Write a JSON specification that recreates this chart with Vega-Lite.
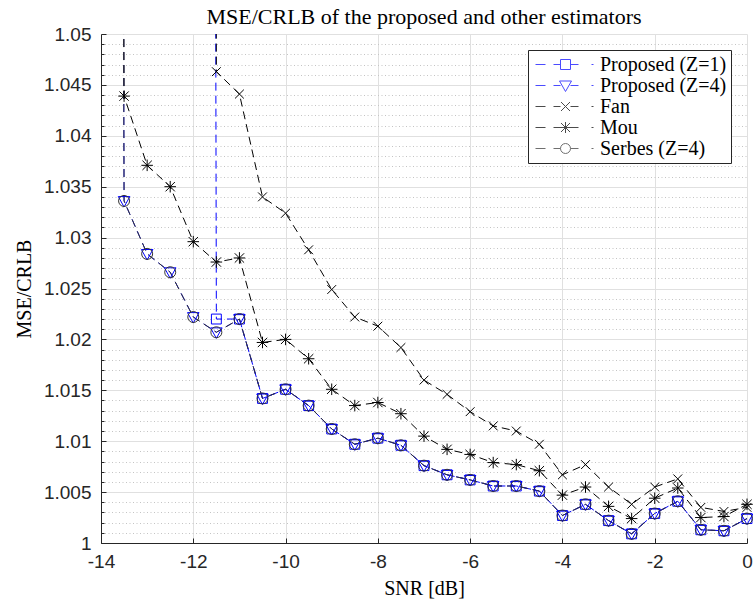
{
  "$schema": "https://vega.github.io/schema/vega-lite/v6.json",
  "autosize": {"type": "none"},
  "padding": {"left": 101, "top": 34, "right": 6, "bottom": 58},
  "width": 646,
  "height": 509,
  "background": "white",
  "config": {"view": {"stroke": null}},
  "title": {"text": "MSE/CRLB of the proposed and other estimators", "font": "Liberation Serif", "fontSize": 22, "fontWeight": "normal", "color": "#000000", "anchor": "middle", "frame": "group", "offset": 0, "dy": 4},
  "data": {"values": [
    {"snr": -14, "series": "Proposed (Z=1)", "v": 3.4}, {"snr": -13.5, "series": "Proposed (Z=1)", "v": 3.0}, {"snr": -13, "series": "Proposed (Z=1)", "v": 2.7}, {"snr": -12.5, "series": "Proposed (Z=1)", "v": 2.4}, {"snr": -12, "series": "Proposed (Z=1)", "v": 2.1}, {"snr": -11.5, "series": "Proposed (Z=1)", "v": 1.0220}, {"snr": -11, "series": "Proposed (Z=1)", "v": 1.0220}, {"snr": -10.5, "series": "Proposed (Z=1)", "v": 1.0142}, {"snr": -10, "series": "Proposed (Z=1)", "v": 1.0151}, {"snr": -9.5, "series": "Proposed (Z=1)", "v": 1.0135}, {"snr": -9, "series": "Proposed (Z=1)", "v": 1.0112}, {"snr": -8.5, "series": "Proposed (Z=1)", "v": 1.0097}, {"snr": -8, "series": "Proposed (Z=1)", "v": 1.0103}, {"snr": -7.5, "series": "Proposed (Z=1)", "v": 1.0096}, {"snr": -7, "series": "Proposed (Z=1)", "v": 1.0076}, {"snr": -6.5, "series": "Proposed (Z=1)", "v": 1.0067}, {"snr": -6, "series": "Proposed (Z=1)", "v": 1.0062}, {"snr": -5.5, "series": "Proposed (Z=1)", "v": 1.0056}, {"snr": -5, "series": "Proposed (Z=1)", "v": 1.0056}, {"snr": -4.5, "series": "Proposed (Z=1)", "v": 1.0051}, {"snr": -4, "series": "Proposed (Z=1)", "v": 1.0027}, {"snr": -3.5, "series": "Proposed (Z=1)", "v": 1.0038}, {"snr": -3, "series": "Proposed (Z=1)", "v": 1.0022}, {"snr": -2.5, "series": "Proposed (Z=1)", "v": 1.0009}, {"snr": -2, "series": "Proposed (Z=1)", "v": 1.0029}, {"snr": -1.5, "series": "Proposed (Z=1)", "v": 1.0041}, {"snr": -1, "series": "Proposed (Z=1)", "v": 1.0013}, {"snr": -0.5, "series": "Proposed (Z=1)", "v": 1.0012}, {"snr": 0, "series": "Proposed (Z=1)", "v": 1.0024},
    {"snr": -14, "series": "Proposed (Z=4)", "v": 1.9}, {"snr": -13.5, "series": "Proposed (Z=4)", "v": 1.0336}, {"snr": -13, "series": "Proposed (Z=4)", "v": 1.0284}, {"snr": -12.5, "series": "Proposed (Z=4)", "v": 1.0266}, {"snr": -12, "series": "Proposed (Z=4)", "v": 1.0222}, {"snr": -11.5, "series": "Proposed (Z=4)", "v": 1.0207}, {"snr": -11, "series": "Proposed (Z=4)", "v": 1.0220}, {"snr": -10.5, "series": "Proposed (Z=4)", "v": 1.0142}, {"snr": -10, "series": "Proposed (Z=4)", "v": 1.0151}, {"snr": -9.5, "series": "Proposed (Z=4)", "v": 1.0135}, {"snr": -9, "series": "Proposed (Z=4)", "v": 1.0112}, {"snr": -8.5, "series": "Proposed (Z=4)", "v": 1.0097}, {"snr": -8, "series": "Proposed (Z=4)", "v": 1.0103}, {"snr": -7.5, "series": "Proposed (Z=4)", "v": 1.0096}, {"snr": -7, "series": "Proposed (Z=4)", "v": 1.0076}, {"snr": -6.5, "series": "Proposed (Z=4)", "v": 1.0067}, {"snr": -6, "series": "Proposed (Z=4)", "v": 1.0062}, {"snr": -5.5, "series": "Proposed (Z=4)", "v": 1.0056}, {"snr": -5, "series": "Proposed (Z=4)", "v": 1.0056}, {"snr": -4.5, "series": "Proposed (Z=4)", "v": 1.0051}, {"snr": -4, "series": "Proposed (Z=4)", "v": 1.0027}, {"snr": -3.5, "series": "Proposed (Z=4)", "v": 1.0038}, {"snr": -3, "series": "Proposed (Z=4)", "v": 1.0022}, {"snr": -2.5, "series": "Proposed (Z=4)", "v": 1.0009}, {"snr": -2, "series": "Proposed (Z=4)", "v": 1.0029}, {"snr": -1.5, "series": "Proposed (Z=4)", "v": 1.0041}, {"snr": -1, "series": "Proposed (Z=4)", "v": 1.0013}, {"snr": -0.5, "series": "Proposed (Z=4)", "v": 1.0012}, {"snr": 0, "series": "Proposed (Z=4)", "v": 1.0024},
    {"snr": -14, "series": "Fan", "v": 3.9006}, {"snr": -13.5, "series": "Fan", "v": 3.5}, {"snr": -13, "series": "Fan", "v": 3.1}, {"snr": -12.5, "series": "Fan", "v": 2.7}, {"snr": -12, "series": "Fan", "v": 2.3}, {"snr": -11.5, "series": "Fan", "v": 1.0463}, {"snr": -11, "series": "Fan", "v": 1.0441}, {"snr": -10.5, "series": "Fan", "v": 1.0340}, {"snr": -10, "series": "Fan", "v": 1.0324}, {"snr": -9.5, "series": "Fan", "v": 1.0288}, {"snr": -9, "series": "Fan", "v": 1.0249}, {"snr": -8.5, "series": "Fan", "v": 1.0222}, {"snr": -8, "series": "Fan", "v": 1.0213}, {"snr": -7.5, "series": "Fan", "v": 1.0192}, {"snr": -7, "series": "Fan", "v": 1.0160}, {"snr": -6.5, "series": "Fan", "v": 1.0146}, {"snr": -6, "series": "Fan", "v": 1.0129}, {"snr": -5.5, "series": "Fan", "v": 1.0115}, {"snr": -5, "series": "Fan", "v": 1.0110}, {"snr": -4.5, "series": "Fan", "v": 1.0097}, {"snr": -4, "series": "Fan", "v": 1.0067}, {"snr": -3.5, "series": "Fan", "v": 1.0077}, {"snr": -3, "series": "Fan", "v": 1.0055}, {"snr": -2.5, "series": "Fan", "v": 1.0038}, {"snr": -2, "series": "Fan", "v": 1.0055}, {"snr": -1.5, "series": "Fan", "v": 1.0063}, {"snr": -1, "series": "Fan", "v": 1.0035}, {"snr": -0.5, "series": "Fan", "v": 1.0031}, {"snr": 0, "series": "Fan", "v": 1.0035},
    {"snr": -14, "series": "Mou", "v": 1.9996}, {"snr": -13.5, "series": "Mou", "v": 1.0439}, {"snr": -13, "series": "Mou", "v": 1.0371}, {"snr": -12.5, "series": "Mou", "v": 1.0350}, {"snr": -12, "series": "Mou", "v": 1.0296}, {"snr": -11.5, "series": "Mou", "v": 1.0276}, {"snr": -11, "series": "Mou", "v": 1.0280}, {"snr": -10.5, "series": "Mou", "v": 1.0197}, {"snr": -10, "series": "Mou", "v": 1.0200}, {"snr": -9.5, "series": "Mou", "v": 1.0181}, {"snr": -9, "series": "Mou", "v": 1.0151}, {"snr": -8.5, "series": "Mou", "v": 1.0135}, {"snr": -8, "series": "Mou", "v": 1.0138}, {"snr": -7.5, "series": "Mou", "v": 1.0127}, {"snr": -7, "series": "Mou", "v": 1.0105}, {"snr": -6.5, "series": "Mou", "v": 1.0092}, {"snr": -6, "series": "Mou", "v": 1.0087}, {"snr": -5.5, "series": "Mou", "v": 1.0079}, {"snr": -5, "series": "Mou", "v": 1.0077}, {"snr": -4.5, "series": "Mou", "v": 1.0071}, {"snr": -4, "series": "Mou", "v": 1.0047}, {"snr": -3.5, "series": "Mou", "v": 1.0055}, {"snr": -3, "series": "Mou", "v": 1.0036}, {"snr": -2.5, "series": "Mou", "v": 1.0024}, {"snr": -2, "series": "Mou", "v": 1.0044}, {"snr": -1.5, "series": "Mou", "v": 1.0054}, {"snr": -1, "series": "Mou", "v": 1.0025}, {"snr": -0.5, "series": "Mou", "v": 1.0026}, {"snr": 0, "series": "Mou", "v": 1.0038},
    {"snr": -14, "series": "Serbes (Z=4)", "v": 1.8994}, {"snr": -13.5, "series": "Serbes (Z=4)", "v": 1.0336}, {"snr": -13, "series": "Serbes (Z=4)", "v": 1.0284}, {"snr": -12.5, "series": "Serbes (Z=4)", "v": 1.0266}, {"snr": -12, "series": "Serbes (Z=4)", "v": 1.0222}, {"snr": -11.5, "series": "Serbes (Z=4)", "v": 1.0207}, {"snr": -11, "series": "Serbes (Z=4)", "v": 1.0220}, {"snr": -10.5, "series": "Serbes (Z=4)", "v": 1.0142}, {"snr": -10, "series": "Serbes (Z=4)", "v": 1.0151}, {"snr": -9.5, "series": "Serbes (Z=4)", "v": 1.0135}, {"snr": -9, "series": "Serbes (Z=4)", "v": 1.0112}, {"snr": -8.5, "series": "Serbes (Z=4)", "v": 1.0097}, {"snr": -8, "series": "Serbes (Z=4)", "v": 1.0103}, {"snr": -7.5, "series": "Serbes (Z=4)", "v": 1.0096}, {"snr": -7, "series": "Serbes (Z=4)", "v": 1.0076}, {"snr": -6.5, "series": "Serbes (Z=4)", "v": 1.0067}, {"snr": -6, "series": "Serbes (Z=4)", "v": 1.0062}, {"snr": -5.5, "series": "Serbes (Z=4)", "v": 1.0056}, {"snr": -5, "series": "Serbes (Z=4)", "v": 1.0056}, {"snr": -4.5, "series": "Serbes (Z=4)", "v": 1.0051}, {"snr": -4, "series": "Serbes (Z=4)", "v": 1.0027}, {"snr": -3.5, "series": "Serbes (Z=4)", "v": 1.0038}, {"snr": -3, "series": "Serbes (Z=4)", "v": 1.0022}, {"snr": -2.5, "series": "Serbes (Z=4)", "v": 1.0009}, {"snr": -2, "series": "Serbes (Z=4)", "v": 1.0029}, {"snr": -1.5, "series": "Serbes (Z=4)", "v": 1.0041}, {"snr": -1, "series": "Serbes (Z=4)", "v": 1.0013}, {"snr": -0.5, "series": "Serbes (Z=4)", "v": 1.0012}, {"snr": 0, "series": "Serbes (Z=4)", "v": 1.0024}
  ]},
  "layer": [
    {
      "encoding": {
        "x": {"field": "snr", "type": "quantitative", "scale": {"domain": [-14, 0], "nice": false, "zero": false},
              "axis": {"values": [-14, -12, -10, -8, -6, -4, -2, 0], "labelExpr": "'' + datum.value", "title": "SNR [dB]", "titleFont": "Liberation Serif", "titleFontSize": 20, "titleFontWeight": "normal", "titleColor": "#000000", "titlePadding": 7, "labelFont": "Liberation Sans", "labelFontSize": 19, "labelColor": "#262626", "labelPadding": 14, "tickSize": -5, "tickColor": "#262626", "domainColor": "#262626", "grid": true, "gridColor": "#e0e0e0", "labelFlush": false}},
        "y": {"field": "v", "type": "quantitative", "scale": {"domain": [1, 1.05], "nice": false, "zero": false},
              "axis": {"values": [1, 1.005, 1.01, 1.015, 1.02, 1.025, 1.03, 1.035, 1.04, 1.045, 1.05], "labelExpr": "'' + datum.value", "title": "MSE/CRLB", "titleFont": "Liberation Serif", "titleFontSize": 20, "titleFontWeight": "normal", "titleColor": "#000000", "titlePadding": 9, "labelFont": "Liberation Sans", "labelFontSize": 19, "labelColor": "#262626", "labelPadding": 15, "tickSize": -5, "tickColor": "#262626", "domainColor": "#262626", "grid": true, "gridColor": "#e0e0e0", "labelFlush": false}}
      },
      "layer": [
        {"transform": [{"filter": "datum.series === 'Proposed (Z=1)'"}], "mark": {"type": "line", "clip": true, "stroke": "#0000ff", "strokeWidth": 1, "strokeDash": [8, 5]}},
        {"transform": [{"filter": "datum.series === 'Proposed (Z=4)'"}], "mark": {"type": "line", "clip": true, "stroke": "#0000ff", "strokeWidth": 1, "strokeDash": [8, 5]}},
        {"transform": [{"filter": "datum.series === 'Fan'"}], "mark": {"type": "line", "clip": true, "stroke": "#000000", "strokeWidth": 1, "strokeDash": [8, 5]}},
        {"transform": [{"filter": "datum.series === 'Mou'"}], "mark": {"type": "line", "clip": true, "stroke": "#000000", "strokeWidth": 1, "strokeDash": [8, 5]}},
        {"transform": [{"filter": "datum.series === 'Serbes (Z=4)'"}], "mark": {"type": "line", "clip": true, "stroke": "#333333", "strokeWidth": 1, "strokeDash": [8, 5], "strokeDashOffset": 6}},
        {"transform": [{"filter": "false"}], "mark": {"type": "point", "filled": false, "strokeWidth": 1, "size": 400},
         "encoding": {
           "color": {"field": "series", "type": "nominal",
                     "scale": {"domain": ["Proposed (Z=1)", "Proposed (Z=4)", "Fan", "Mou", "Serbes (Z=4)"], "range": ["#0000ff", "#0000ff", "#000000", "#000000", "#333333"]},
                     "legend": {"title": null, "orient": "none", "legendX": 427, "legendY": 16, "padding": 4, "fillColor": "#ffffff", "strokeColor": "#262626", "cornerRadius": 0, "labelFont": "Liberation Serif", "labelFontSize": 20, "labelColor": "#000000", "labelOffset": 47, "labelLimit": 300, "symbolSize": 400, "symbolStrokeWidth": 1, "symbolFillColor": "transparent", "rowPadding": 0}},
           "shape": {"field": "series", "type": "nominal",
                     "scale": {"domain": ["Proposed (Z=1)", "Proposed (Z=4)", "Fan", "Mou", "Serbes (Z=4)"],
                               "range": ["M-0.7,0H0.3M1.1,0H1.8M2.8,0H3.6M4.9,0H5.1M1.8,-0.5H2.8V0.5H1.8Z",
                                         "M-0.7,0H0.3M1.1,0H1.8M2.8,0H3.6M4.9,0H5.1M1.7,-0.45H2.9L2.3,0.6Z",
                                         "M-0.7,0H0.3M1.1,0H1.8M2.8,0H3.6M4.9,0H5.1M1.85,-0.45L2.75,0.45M1.85,0.45L2.75,-0.45",
                                         "M-0.7,0H0.3M1.1,0H1.8M2.8,0H3.6M4.9,0H5.1M1.85,-0.45L2.75,0.45M1.85,0.45L2.75,-0.45M2.3,-0.55V0.55M1.75,0H2.85",
                                         "M-0.7,0H0.3M1.1,0H1.8M2.8,0H3.6M4.9,0H5.1M2.8,0A0.5,0.5,0,1,1,1.8,0A0.5,0.5,0,1,1,2.8,0"]},
                     "legend": {"title": null, "orient": "none", "legendX": 427, "legendY": 16, "padding": 4, "fillColor": "#ffffff", "strokeColor": "#262626", "cornerRadius": 0, "labelFont": "Liberation Serif", "labelFontSize": 20, "labelColor": "#000000", "labelOffset": 47, "labelLimit": 300, "symbolSize": 400, "symbolStrokeWidth": 1, "symbolFillColor": "transparent", "rowPadding": 0}}
         }}
      ]
    },
    {
      "transform": [{"filter": "datum.v <= 1.05"}],
      "encoding": {
        "x": {"field": "snr", "type": "quantitative", "scale": {"domain": [-14, 0], "nice": false, "zero": false},
              "axis": {"values": [-14, -12, -10, -8, -6, -4, -2, 0], "labelExpr": "'' + datum.value", "title": "SNR [dB]", "titleFont": "Liberation Serif", "titleFontSize": 20, "titleFontWeight": "normal", "titleColor": "#000000", "titlePadding": 7, "labelFont": "Liberation Sans", "labelFontSize": 19, "labelColor": "#262626", "labelPadding": 14, "tickSize": -5, "tickColor": "#262626", "domainColor": "#262626", "grid": true, "gridColor": "#e0e0e0", "labelFlush": false}},
        "y": {"field": "v", "type": "quantitative", "scale": {"domain": [1, 1.05], "nice": false, "zero": false},
              "axis": {"orient": "left", "values": [1.001, 1.002, 1.003, 1.004, 1.006, 1.007, 1.008, 1.009, 1.011, 1.012, 1.013, 1.014, 1.016, 1.017, 1.018, 1.019, 1.021, 1.022, 1.023, 1.024, 1.026, 1.027, 1.028, 1.029, 1.031, 1.032, 1.033, 1.034, 1.036, 1.037, 1.038, 1.039, 1.041, 1.042, 1.043, 1.044, 1.046, 1.047, 1.048, 1.049], "labels": false, "domain": false, "title": null, "tickSize": -3, "tickColor": "#262626", "grid": true, "gridColor": "#c4c4c4", "gridDash": [1, 2.5]}}
      },
      "layer": [
        {"transform": [{"filter": "datum.series === 'Proposed (Z=1)'"}], "mark": {"type": "point", "filled": false, "strokeWidth": 1, "size": 121, "opacity": 1, "color": "#0000ff", "shape": "M-0.9,-0.9H0.9V0.9H-0.9Z"}},
        {"transform": [{"filter": "datum.series === 'Proposed (Z=4)'"}], "mark": {"type": "point", "filled": false, "strokeWidth": 1, "size": 121, "opacity": 1, "color": "#0000ff", "shape": "M-1.05,-0.8H1.05L0,1.1Z"}},
        {"transform": [{"filter": "datum.series === 'Fan'"}], "mark": {"type": "point", "filled": false, "strokeWidth": 1, "size": 121, "opacity": 1, "color": "#000000", "shape": "M-0.8,-0.8L0.8,0.8M-0.8,0.8L0.8,-0.8"}},
        {"transform": [{"filter": "datum.series === 'Mou'"}], "mark": {"type": "point", "filled": false, "strokeWidth": 1, "size": 121, "opacity": 1, "color": "#000000", "shape": "M-0.85,-0.85L0.85,0.85M-0.85,0.85L0.85,-0.85M0,-1.05V1.05M-1.05,0H1.05"}},
        {"transform": [{"filter": "datum.series === 'Serbes (Z=4)'"}], "mark": {"type": "point", "filled": false, "strokeWidth": 1, "size": 121, "opacity": 1, "color": "#333333", "shape": "M1,0A1,1,0,1,1,-1,0A1,1,0,1,1,1,0"}}
      ]
    }
  ],
  "resolve": {"axis": {"y": "independent"}}
}
